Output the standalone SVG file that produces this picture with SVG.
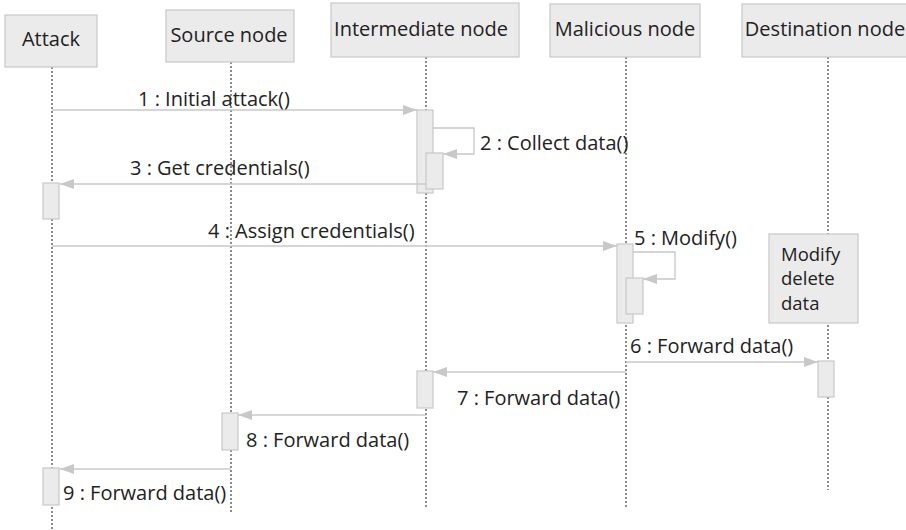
<svg xmlns="http://www.w3.org/2000/svg" width="906" height="530" viewBox="0 0 906 530">
  <style>
    text { font-family: "Open Sans", "Noto Sans", "Liberation Sans", sans-serif; fill: #222222; font-size: 20px; }
    .head { fill: #ebebeb; stroke: #c8c8c8; stroke-width: 1.2; }
    .hlabel { text-anchor: middle; }
    .note { font-size: 18.5px; }
    .life { stroke: #1a1a1a; stroke-width: 1; stroke-dasharray: 2 2; fill: none; }
    .bar { fill: #ebebeb; stroke: #c8c8c8; stroke-width: 1.2; }
    .msg { stroke: #c8c8c8; stroke-width: 1.3; fill: none; }
  </style>
  <defs>
    <marker id="arrow" viewBox="0 0 14 10" refX="14" refY="5" markerWidth="14" markerHeight="10" markerUnits="userSpaceOnUse" orient="auto">
      <path d="M0,0 L14,5 L0,10 Z" fill="#c8c8c8"/>
    </marker>
  </defs>

  <rect width="906" height="530" fill="#ffffff"/>

  <!-- lifelines -->
  <g id="lifelines">
    <line class="life" x1="52" y1="67" x2="52" y2="530"/>
    <line class="life" x1="231" y1="62" x2="231" y2="513"/>
    <line class="life" x1="426" y1="57" x2="426" y2="507"/>
    <line class="life" x1="626" y1="57" x2="626" y2="507"/>
    <line class="life" x1="828" y1="57" x2="828" y2="490"/>
  </g>

  <!-- participants -->
  <g id="attack">
    <rect class="head" x="5" y="15" width="92" height="52"/>
    <text class="hlabel" x="51" y="46">Attack</text>
  </g>
  <g id="source-node">
    <rect class="head" x="166" y="10" width="128" height="52"/>
    <text class="hlabel" x="229" y="42">Source node</text>
  </g>
  <g id="intermediate-node">
    <rect class="head" x="331" y="3" width="188" height="54"/>
    <text class="hlabel" x="421" y="36">Intermediate node</text>
  </g>
  <g id="malicious-node">
    <rect class="head" x="550" y="4" width="150" height="53"/>
    <text class="hlabel" x="625" y="36">Malicious node</text>
  </g>
  <g id="destination-node">
    <rect class="head" x="742" y="4" width="170" height="53"/>
    <text class="hlabel" x="825" y="36">Destination node</text>
  </g>

  <!-- activation bars -->
  <g id="activations">
    <rect class="bar" x="417" y="110" width="16" height="83"/>
    <rect class="bar" x="426" y="153" width="17" height="36"/>
    <rect class="bar" x="43" y="183" width="16" height="36"/>
    <rect class="bar" x="617" y="244" width="16" height="79"/>
    <rect class="bar" x="626" y="278" width="17" height="36"/>
    <rect class="bar" x="818" y="361" width="16" height="36"/>
    <rect class="bar" x="417" y="371" width="16" height="37"/>
    <rect class="bar" x="222" y="413" width="16" height="37"/>
    <rect class="bar" x="43" y="468" width="16" height="37"/>
  </g>

  <!-- note -->
  <g id="note-modify">
    <rect class="head" x="769" y="234" width="89" height="89"/>
    <text class="note" x="781" y="261">Modify</text>
    <text class="note" x="781" y="285">delete</text>
    <text class="note" x="781" y="310">data</text>
  </g>

  <!-- messages -->
  <g id="connectors">
    <line class="msg" x1="52" y1="110" x2="417" y2="110" marker-end="url(#arrow)"/>
    <polyline class="msg" points="433,128 474,128 474,154 443,154" marker-end="url(#arrow)"/>
    <line class="msg" x1="426" y1="184" x2="60" y2="184" marker-end="url(#arrow)"/>
    <line class="msg" x1="52" y1="246" x2="617" y2="246" marker-end="url(#arrow)"/>
    <polyline class="msg" points="633,252 675,252 675,279 643,279" marker-end="url(#arrow)"/>
    <line class="msg" x1="626" y1="362" x2="818" y2="362" marker-end="url(#arrow)"/>
    <line class="msg" x1="626" y1="372" x2="433" y2="372" marker-end="url(#arrow)"/>
    <line class="msg" x1="426" y1="415" x2="238" y2="415" marker-end="url(#arrow)"/>
    <line class="msg" x1="231" y1="469" x2="60" y2="469" marker-end="url(#arrow)"/>
  </g>

  <!-- message labels -->
  <g id="labels">
    <text x="138" y="106">1 : Initial attack()</text>
    <text x="480" y="150">2 : Collect data()</text>
    <text x="130" y="175">3 : Get credentials()</text>
    <text x="208" y="238">4 : Assign credentials()</text>
    <text x="634" y="245">5 : Modify()</text>
    <text x="630" y="353">6 : Forward data()</text>
    <text x="457" y="405">7 : Forward data()</text>
    <text x="246" y="447">8 : Forward data()</text>
    <text x="63" y="500">9 : Forward data()</text>
  </g>
</svg>
